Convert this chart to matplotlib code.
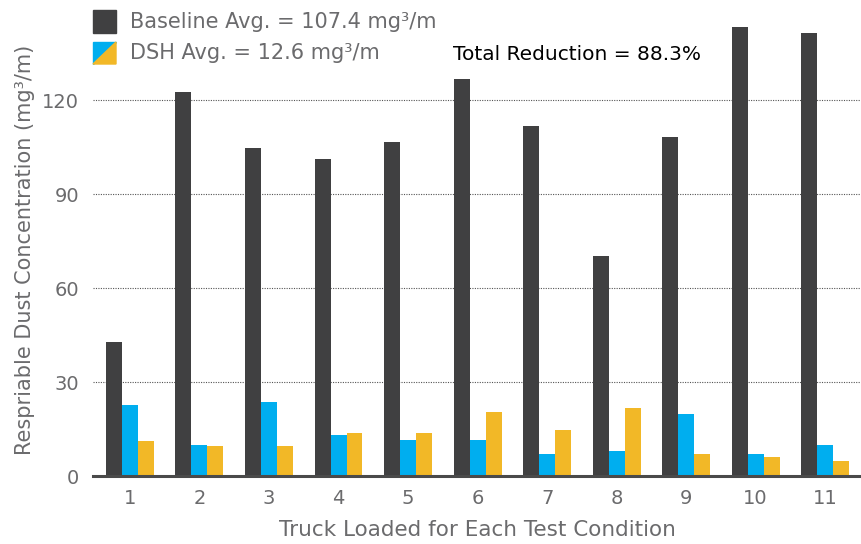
import matplotlib
matplotlib.use("Agg")
from matplotlib import pyplot as plt
import matplotlib.patches as patches
import numpy as np

# truck index
trucks = [1, 2, 3, 4, 5, 6, 7, 8, 9, 10, 11]

# respirable dust, mg3/m
baseline = [42.8, 122.6, 104.7, 101.2, 106.6, 126.7, 111.7, 70.2, 108.2, 143.3, 141.4]
dsh_blue = [22.7, 9.9, 23.6, 13.1, 11.5, 11.5, 7.0, 8.0, 19.8, 7.0, 9.9]
dsh_yellow = [11.2, 9.6, 9.6, 13.7, 13.7, 20.4, 14.7, 21.7, 7.0, 6.1, 4.8]

yticks = [0, 30, 60, 90, 120]

dark = "#404041"
blue = "#00AEEF"
yellow = "#F2B827"
grey = "#6b6b6d"

plt.rcParams['font.family'] = ['DejaVu Sans']

fig = plt.figure(figsize=(8.62, 5.44), dpi=100)
ax = fig.add_axes([0.108, 0.125, 0.892, 0.875])

x = np.array(trucks)
w = 0.23
ax.bar(x - w, baseline, w, color=dark, zorder=3)
ax.bar(x, dsh_blue, w, color=blue, zorder=3)
ax.bar(x + w, dsh_yellow, w, color=yellow, zorder=3)

ax.set_xlim(0.47, 11.53)
ax.set_ylim(0, 152)
ax.set_xticks(x)
ax.set_yticks(yticks)
ax.tick_params(axis='both', length=0, labelsize=14, labelcolor=grey)
ax.tick_params(axis='x', pad=9)
ax.tick_params(axis='y', pad=10)

ax.yaxis.grid(True, linestyle=(0, (1, 1.2)), linewidth=0.8, color="#555555", zorder=0)
ax.set_axisbelow(True)

for s in ['top', 'right', 'left']:
    ax.spines[s].set_visible(False)
ax.spines['bottom'].set_color("#4a4a4a")
ax.spines['bottom'].set_linewidth(2.2)
ax.spines['bottom'].set_zorder(4)

ax.set_ylabel("Respriable Dust Concentration (mg³/m)", fontsize=15, color=grey)
ax.yaxis.set_label_coords(-0.076, 0.475)
ax.set_xlabel("Truck Loaded for Each Test Condition", fontsize=15.5, color=grey, labelpad=9)

# legend drawn by hand
W, H = 862.0, 544.0
fig.patches.append(patches.Rectangle((93 / W, 1 - 33 / H), 23 / W, 23 / H,
                                     transform=fig.transFigure, color=dark))
x0, x1, y0, y1 = 93 / W, 116 / W, 1 - 64 / H, 1 - 42 / H
fig.patches.append(patches.Polygon([(x0, y0), (x0, y1), (x1, y1)], closed=True,
                                   transform=fig.transFigure, color=blue))
fig.patches.append(patches.Polygon([(x0, y0), (x1, y1), (x1, y0)], closed=True,
                                   transform=fig.transFigure, color=yellow))
fig.text(130 / W, 1 - 22 / H, "Baseline Avg. = 107.4 mg³/m", fontsize=15,
         color=grey, va='center', ha='left')
fig.text(130 / W, 1 - 53 / H, "DSH Avg. = 12.6 mg³/m", fontsize=15,
         color=grey, va='center', ha='left')
fig.text(453 / W, 1 - 54 / H, "Total Reduction = 88.3%", fontsize=14.5,
         color="black", va='center', ha='left')

plt.savefig("out.png", dpi=100)
